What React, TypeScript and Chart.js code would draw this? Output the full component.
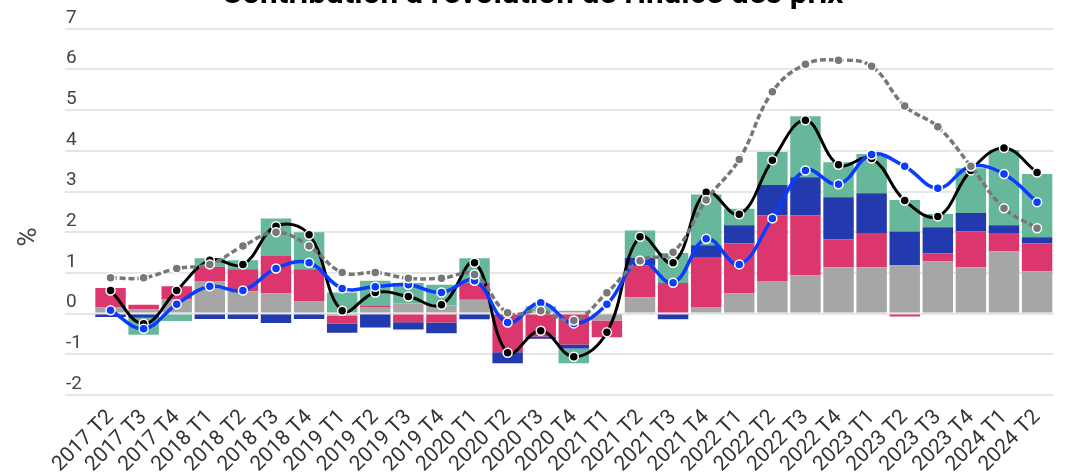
import React, { useEffect, useRef } from "react";
import { Chart, registerables } from "chart.js";

Chart.register(...registerables);

const categories = [
  "2017 T2", "2017 T3", "2017 T4", "2018 T1", "2018 T2", "2018 T3", "2018 T4",
  "2019 T1", "2019 T2", "2019 T3", "2019 T4", "2020 T1", "2020 T2", "2020 T3",
  "2020 T4", "2021 T1", "2021 T2", "2021 T3", "2021 T4", "2022 T1", "2022 T2",
  "2022 T3", "2022 T4", "2023 T1", "2023 T2", "2023 T3", "2023 T4", "2024 T1", "2024 T2",
];

const greyBars = [0.15, 0.1, 0.35, 0.8, 0.55, 0.5, 0.3, -0.05, 0.16, 0.25, 0.2, 0.34, 0, 0.05, 0.07, -0.17, 0.4, 0, 0.16, 0.5, 0.8, 0.94, 1.14, 1.14, 1.19, 1.29, 1.14, 1.53, 1.04];
const pinkBars = [0.48, 0.12, 0.32, 0.35, 0.54, 0.93, 0.79, -0.2, 0.04, -0.21, -0.22, 0.41, -0.95, -0.56, -0.76, -0.41, 0.78, 0.75, 1.23, 1.23, 1.62, 1.48, 0.69, 0.84, -0.07, 0.19, 0.88, 0.45, 0.69];
const blueBars = [-0.08, -0.1, 0, -0.13, -0.13, -0.23, -0.13, -0.22, -0.34, -0.18, -0.26, -0.14, -0.27, -0.06, -0.1, 0, 0.19, -0.14, 0.29, 0.44, 0.74, 0.93, 1.03, 0.98, 0.83, 0.64, 0.45, 0.19, 0.15];
const greenBars = [0, -0.42, -0.18, 0.21, 0.22, 0.91, 0.91, 0.52, 0.61, 0.5, 0.51, 0.61, 0, 0.13, -0.36, 0, 0.67, 0.74, 1.25, 0.41, 0.81, 1.5, 0.86, 0.96, 0.77, 0.33, 1.1, 1.85, 1.55];

const blackLine = [0.57, -0.25, 0.57, 1.31, 1.21, 2.15, 1.94, 0.07, 0.52, 0.42, 0.22, 1.25, -0.96, -0.42, -1.06, -0.46, 1.89, 1.25, 2.98, 2.44, 3.77, 4.75, 3.66, 3.81, 2.78, 2.39, 3.52, 4.07, 3.47];
const blueLine = [0.08, -0.37, 0.23, 0.67, 0.57, 1.11, 1.25, 0.62, 0.66, 0.71, 0.52, 0.81, -0.22, 0.27, -0.24, 0.23, 1.3, 0.76, 1.84, 1.21, 2.34, 3.52, 3.18, 3.91, 3.62, 3.08, 3.62, 3.43, 2.74];
const greyLine = [0.88, 0.88, 1.11, 1.21, 1.66, 2.0, 1.66, 1.01, 1.01, 0.87, 0.87, 0.96, 0.02, 0.07, -0.17, 0.51, 1.3, 1.51, 2.79, 3.79, 5.45, 6.13, 6.23, 6.08, 5.1, 4.59, 3.62, 2.59, 2.1];

const TITLE = "Contribution à l'évolution de l'indice des prix";
const Y_TITLE = "%";

const yTitlePlugin = {
  id: "yTitleCentered",
  afterDraw(chart: any) {
    const ctx = chart.ctx;
    ctx.save();
    ctx.translate(29, chart.height / 2);
    ctx.rotate(-Math.PI / 2);
    ctx.fillStyle = "#444444";
    ctx.font = "26px Roboto";
    ctx.textAlign = "center";
    ctx.textBaseline = "middle";
    ctx.fillText(Y_TITLE, 0, 0);
    ctx.restore();
  },
};

export default function App() {
  const ref = useRef<HTMLCanvasElement | null>(null);

  useEffect(() => {
    if (!ref.current) return;
    const bar = (label: string, data: number[], color: string) => ({
      type: "bar" as const,
      label,
      data,
      backgroundColor: color,
      borderWidth: 0,
      stack: "bars",
      order: 10,
      barPercentage: 0.92,
      categoryPercentage: 1.0,
    });
    const line = (label: string, data: number[], color: string, width: number, order: number, dash: number[]) => ({
      type: "line" as const,
      label,
      data,
      borderColor: color,
      backgroundColor: color,
      borderWidth: width,
      borderDash: dash,
      pointBackgroundColor: color,
      pointBorderColor: "#ffffff",
      pointBorderWidth: 1.5,
      pointRadius: 4.5,
      tension: 0.4,
      fill: false,
      stack: "line-" + label,
      order,
    });
    const chart = new Chart(ref.current, {
      type: "bar",
      data: {
        labels: categories,
        datasets: [
          bar("Énergie", greyBars, "#a6a6a6"),
          bar("Alimentation", pinkBars, "#db376c"),
          bar("Biens manufacturés", blueBars, "#2339ae"),
          bar("Services", greenBars, "#67b79b"),
          line("Inflation totale", blackLine, "#000000", 3, 3, []),
          line("Inflation sous-jacente", blueLine, "#0a3cff", 3.5, 2, []),
          line("Zone euro", greyLine, "#777777", 3.5, 1, [6, 3]),
        ] as any,
      },
      options: {
        animation: false,
        responsive: true,
        maintainAspectRatio: false,
        layout: { padding: 0 },
        plugins: {
          legend: { display: false },
          tooltip: { enabled: false },
          title: {
            display: true,
            text: TITLE,
            color: "#000000",
            font: { family: "Roboto", size: 31.5, weight: "bold" },
            padding: { top: -24, bottom: 15 },
          },
        },
        scales: {
          x: {
            stacked: true,
            grid: { display: false, drawTicks: false },
            border: { display: false },
            ticks: {
              autoSkip: false,
              minRotation: 45,
              maxRotation: 45,
              padding: 10,
              color: "#333333",
              font: { family: "Roboto", size: 21 },
            },
            afterFit: (s: any) => {
              s.height = 79;
            },
          },
          y: {
            stacked: true,
            min: -2,
            max: 7,
            ticks: {
              stepSize: 1,
              mirror: true,
              padding: -28,
              labelOffset: -11,
              color: "#444444",
              font: { family: "Roboto", size: 19 },
            },
            grid: { color: "#e6e6e6", lineWidth: 2, tickLength: 29, drawTicks: true },
            border: { display: false },
            title: { display: false, text: Y_TITLE },
            afterFit: (s: any) => {
              s.width = 94;
            },
          },
        },
      } as any,
      plugins: [yTitlePlugin],
    });
    return () => chart.destroy();
  }, []);

  return (
    <div style={{ position: "absolute", left: 0, top: 0, width: 1065, height: 474 }}>
      <canvas ref={ref} />
    </div>
  );
}
